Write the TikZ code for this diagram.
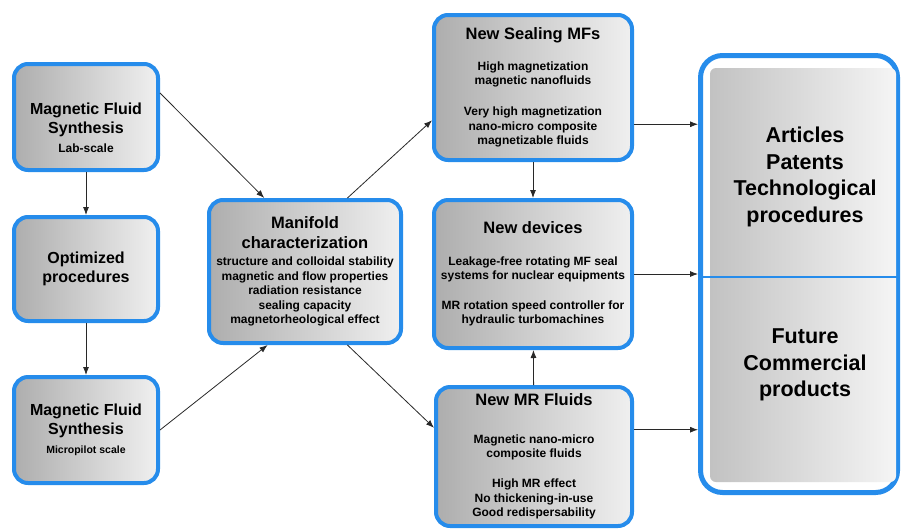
\documentclass[tikz,border=0pt]{standalone}
\usepackage{tikz}
\usetikzlibrary{arrows.meta, positioning, calc}
\usepackage{fontspec}
\setmainfont{Liberation Sans}
\usepackage{xcolor}
\definecolor{myframe}{RGB}{38,140,235}
\definecolor{myline}{RGB}{40,40,40}
\newcommand{\myhead}{\fontsize{16.5}{20}\selectfont}

\begin{document}
\begin{tikzpicture}[x=1pt, y=-1pt,
                    mybox/.style={draw=myframe, line width=4pt, rounded corners=14pt, left color=black!32, right color=black!6, align=center, inner sep=0pt, font=\bfseries\fontsize{16}{19}\selectfont},
                    mysmall/.style={mybox, font=\bfseries\fontsize{12}{14.6}\selectfont},
                    mybig/.style={draw=myframe, line width=5pt, rounded corners=22pt, fill=white, inner sep=0pt},
                    mytext/.style={align=center, inner sep=0pt, font=\bfseries\fontsize{21.5}{26.7}\selectfont},
                    myarrow/.style={-{Latex[length=8pt,width=6pt]}, draw=myline, line width=0.8pt}]
                    \useasboundingbox (0,0) rectangle (901,531);
                    \node[mybox, minimum width=144pt, minimum height=106pt] (labA) at (86,117) {\rule{0pt}{34pt}Magnetic Fluid\\ Synthesis\\ \fontsize{12}{18}\selectfont Lab-scale};
                    \node[mybox, minimum width=144pt, minimum height=104pt] (optB) at (86,269) {Optimized\\ procedures};
                    \node[mybox, minimum width=144pt, minimum height=106pt] (pilC) at (86,430) {Magnetic Fluid\\ Synthesis\\ \fontsize{10.5}{17}\selectfont Micropilot scale};
                    \node[mysmall, minimum width=192pt, minimum height=143pt] (manif) at (305,271.5) {\myhead Manifold\\[5.4pt] \myhead characterization\\[2.4pt] structure and colloidal stability\\ magnetic and flow properties\\ radiation resistance\\ sealing capacity\\ magnetorheological effect};
                    \node[mysmall, minimum width=198pt, minimum height=145pt] (seal) at (533,87.5) {\myhead New Sealing MFs\\[16pt] High magnetization\\ magnetic nanofluids\\[16pt] Very high magnetization\\ nano-micro composite\\ magnetizable fluids};
                    \node[mysmall, minimum width=198pt, minimum height=148pt] (devs) at (533,274) {\myhead New devices\\[17pt] Leakage-free rotating MF seal\\ systems for nuclear equipments\\[15pt] MR rotation speed controller for\\ hydraulic turbomachines};
                    \node[mysmall, minimum width=196pt, minimum height=139pt] (mrf) at (534,456.5) {\myhead New MR Fluids\\[23pt] Magnetic nano-micro\\ composite fluids\\[15pt] High MR effect\\ No thickening-in-use\\ Good redispersability};
                    \node[mybig, minimum width=197pt, minimum height=437pt] (out) at (799,274) {};
                    \shade[left color=black!24, right color=black!4, rounded corners=6pt] ($(out.north west)+(12,15)$) rectangle ($(out.south east)+(-4,-13)$);
                    \draw[myframe, line width=2pt] ($(out.west)+(0,3)$) -- ($(out.east)+(0,3)$);
                    \node[mytext] (pub) at (805,177) {Articles\\ Patents\\ Technological\\ procedures};
                    \node[mytext] (prod) at (805,365) {Future\\ Commercial\\ products};
                    \draw[myarrow] (labA) -- (optB);
                    \draw[myarrow] (optB) -- (pilC);
                    \draw[myarrow] (labA.18) -- (manif.119);
                    \draw[myarrow] (pilC.east) -- (manif.-117);
                    \draw[myarrow] (manif.60) -- (seal.198);
                    \draw[myarrow] (manif.-60) -- (mrf.164);
                    \draw[myarrow] (seal) -- (devs);
                    \draw[myarrow] (mrf) -- (devs);
                    \draw[myarrow] (seal.-20) -- (seal.-20 -| out.west);
                    \draw[myarrow] (devs.east) -- (devs.east -| out.west);
                    \draw[myarrow] (mrf.15) -- (mrf.15 -| out.west);
                \end{tikzpicture}
\end{document}
